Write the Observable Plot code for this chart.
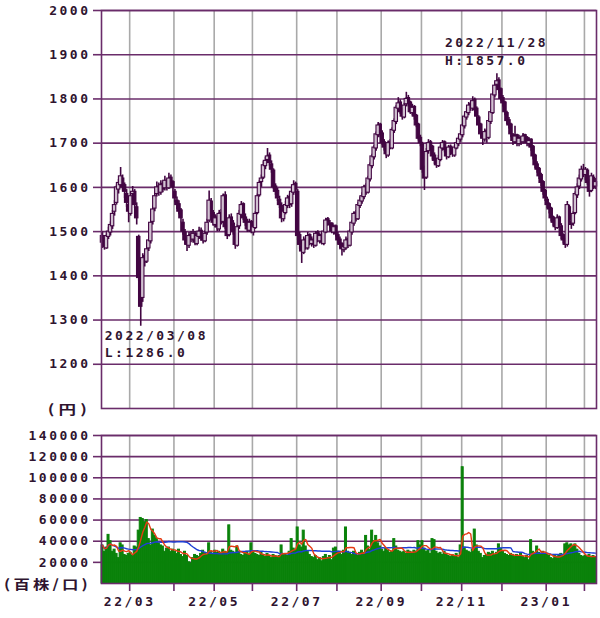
<!DOCTYPE html>
<html><head><meta charset="utf-8">
<script src="https://cdn.jsdelivr.net/npm/d3@7"></script>
<script src="https://cdn.jsdelivr.net/npm/@observablehq/plot@0.6"></script>
<style>
html,body{margin:0;padding:0;background:#fff;}
#wrap{position:relative;width:600px;height:618px;overflow:hidden;}
#price,#vol{position:absolute;left:0;}
#price{top:0;}
#vol{top:418px;}
.unit{position:absolute;left:0;width:88px;text-align:right;font-family:"Noto Sans CJK JP";font-weight:bold;font-size:13px;line-height:15px;color:#2f142f;white-space:nowrap;}
.unit span{display:inline-block;transform-origin:right center;}
</style>
</head><body>
<div id="wrap">
<div id="price"></div>
<div id="vol"></div>
<div class="unit" style="top:401px"><span style="transform:scaleX(1.35);letter-spacing:3px;margin-right:-3px">(円)</span></div>
<div class="unit" style="top:576px"><span style="transform:scaleX(1.26);letter-spacing:2.5px;margin-right:-2.5px">(百株/口)</span></div>
</div>
<script>
// ---- calendar (trading days) ----
const startDate = "2022-02-07";
const endDate = "2023-02-08";
const holidays = ["2022-02-11","2022-02-23","2022-03-21","2022-04-29","2022-05-03","2022-05-04","2022-05-05",
  "2022-07-18","2022-08-11","2022-09-19","2022-09-23","2022-10-10","2022-11-03","2022-11-23",
  "2023-01-02","2023-01-03","2023-01-09"];

// ---- daily prices (円) ----
const open = [
1490,1478,1462,1488,1498,1512,1545,1565,1595,1605,1620,1605,1585,1560,
1540,1585,1590,1555,1488,1400,1350,1445,1432,1462,1478,1522,1552,1585,1602,1588,1608,1598,1612,1598,1622,1612,
1590,1570,1562,1548,1520,1498,1482,1468,1492,1482,1495,1472,1488,1502,1488,1478,1498,1525,1568,1542,
1515,1532,1505,1542,1522,1582,1508,1492,1532,1518,1502,1468,1512,1538,1562,1532,1522,1502,1522,
1498,1508,1542,1582,1612,1622,1648,1662,1672,1652,1638,1602,1592,1572,1558,1528,1542,1558,1578,1562,1588,1608,
1590,1492,1468,1452,1482,1462,1492,1472,1482,1468,1498,1478,1492,1472,1498,1528,1518,1518,1498,1512,
1492,1482,1472,1458,1462,1482,1468,1498,1518,1542,1528,1558,1568,1578,1602,1588,1618,1648,1668,1688,1718,1742,
1722,1702,1688,1672,1702,1688,1728,1748,1778,1792,1772,1758,1788,1802,1792,1768,1782,1762,1742,1712,
1698,1642,1622,1682,1702,1692,1672,1662,1648,1662,1688,1702,1688,1668,1692,1682,1672,1688,1698,1708,
1718,1738,1758,1768,1788,1778,1798,1778,1758,1742,1722,1708,1728,1712,1748,1768,1808,1832,1842,1822,
1802,1792,1768,1752,1742,1718,1702,1718,1698,1712,1702,1718,1712,1698,1708,1692,1672,1652,1642,1628,1612,1592,
1572,1562,1552,1532,1522,1508,1532,1512,1492,1482,1470,1555,1522,1518,1542,1582,1602,1618,1638,
1628,1638,1612,1592,1622,1602];
const high = [
1500,1485,1495,1510,1522,1548,1570,1605,1618,1645,1628,1610,1595,1570,
1590,1602,1595,1565,1492,1418,1450,1458,1468,1490,1525,1558,1590,1612,1610,1615,1612,1625,1618,1632,1628,1615,
1595,1578,1570,1552,1528,1505,1488,1498,1500,1505,1500,1495,1510,1508,1492,1502,1528,1592,1575,1548,
1538,1538,1548,1550,1585,1590,1515,1538,1540,1525,1508,1515,1548,1568,1565,1540,1528,1528,1525,
1515,1545,1585,1615,1628,1658,1668,1688,1678,1660,1642,1608,1598,1580,1565,1552,1568,1582,1585,1598,1615,1612,
1595,1498,1475,1488,1490,1498,1495,1488,1485,1500,1502,1495,1498,1505,1530,1532,1525,1520,1515,1515,
1498,1488,1475,1472,1488,1485,1505,1525,1545,1548,1565,1578,1588,1605,1608,1625,1655,1675,1695,1725,1747,1745,
1728,1708,1695,1705,1708,1735,1755,1785,1803,1798,1778,1790,1815,1808,1795,1788,1785,1765,1745,1718,
1702,1648,1688,1708,1706,1695,1678,1665,1672,1695,1706,1705,1690,1695,1696,1685,1695,1705,1715,1728,
1745,1765,1778,1792,1795,1805,1802,1782,1762,1745,1725,1732,1730,1755,1775,1815,1838,1857,1848,1825,
1808,1795,1772,1758,1745,1722,1738,1720,1718,1715,1722,1720,1715,1712,1710,1695,1675,1658,1645,1632,1615,1595,
1578,1565,1555,1535,1525,1538,1535,1518,1495,1485,1568,1560,1540,1545,1590,1608,1628,1648,1652,
1645,1642,1618,1632,1628,1620];
const low = [
1462,1458,1460,1482,1490,1505,1535,1560,1585,1600,1592,1575,1555,1520,
1535,1570,1552,1515,1388,1286,1340,1420,1428,1455,1472,1515,1545,1578,1580,1582,1588,1592,1592,1595,1602,1590,
1565,1550,1538,1520,1492,1470,1455,1462,1475,1478,1468,1468,1482,1478,1472,1475,1492,1520,1532,1512,
1508,1500,1500,1515,1518,1505,1482,1488,1512,1492,1460,1465,1505,1532,1525,1512,1498,1498,1495,
1490,1505,1538,1578,1600,1618,1640,1655,1648,1632,1595,1582,1568,1552,1520,1522,1538,1552,1552,1555,1582,1585,
1480,1460,1428,1448,1458,1458,1468,1465,1462,1465,1475,1472,1470,1468,1495,1512,1508,1495,1492,1488,
1472,1462,1445,1452,1458,1462,1465,1492,1512,1522,1525,1552,1562,1572,1582,1585,1612,1642,1662,1682,1712,1712,
1695,1682,1665,1668,1685,1685,1722,1742,1772,1765,1752,1755,1782,1782,1765,1762,1752,1735,1705,1692,
1632,1593,1618,1675,1682,1662,1652,1643,1645,1658,1682,1678,1662,1665,1672,1668,1668,1685,1692,1702,
1712,1732,1752,1762,1772,1772,1768,1752,1732,1712,1695,1702,1700,1708,1742,1765,1802,1825,1812,1795,
1782,1762,1742,1732,1712,1695,1698,1692,1692,1695,1698,1700,1692,1692,1682,1662,1642,1632,1618,1602,1582,1568,
1552,1540,1522,1512,1502,1505,1508,1482,1472,1462,1465,1520,1505,1512,1538,1575,1595,1612,1622,
1615,1605,1578,1588,1595,1595];
const close = [
1475,1465,1490,1500,1515,1540,1560,1600,1610,1625,1600,1590,1565,1545,
1580,1590,1560,1530,1395,1330,1440,1430,1460,1480,1520,1550,1580,1600,1590,1605,1595,1615,1600,1620,1610,1600,
1575,1560,1545,1530,1500,1480,1470,1490,1485,1495,1475,1490,1500,1485,1480,1495,1520,1570,1540,1520,
1530,1510,1540,1520,1580,1510,1490,1530,1520,1500,1470,1510,1540,1560,1530,1520,1505,1520,1500,
1510,1540,1580,1610,1620,1650,1660,1670,1655,1640,1600,1590,1575,1560,1530,1545,1560,1575,1560,1590,1605,1595,
1490,1470,1455,1480,1465,1490,1475,1480,1470,1495,1480,1490,1475,1500,1525,1520,1515,1500,1510,1495,
1480,1470,1460,1465,1480,1470,1500,1520,1540,1530,1560,1570,1580,1600,1590,1620,1650,1670,1690,1720,1740,1720,
1700,1690,1675,1700,1690,1730,1750,1780,1790,1770,1760,1785,1800,1790,1770,1780,1760,1740,1710,1700,
1640,1620,1680,1700,1690,1670,1660,1650,1665,1690,1700,1685,1670,1690,1680,1675,1690,1700,1710,1720,
1740,1760,1770,1785,1780,1795,1775,1760,1740,1720,1710,1725,1715,1750,1770,1810,1830,1840,1820,1800,
1790,1770,1750,1740,1720,1705,1715,1700,1710,1705,1715,1710,1700,1705,1690,1670,1650,1640,1625,1610,1590,1575,
1560,1550,1530,1520,1510,1530,1515,1490,1480,1470,1560,1525,1515,1540,1585,1600,1620,1640,1630,
1640,1610,1590,1625,1600,1612];
// ---- daily volume (百株) ----
const volume = [
36000,30000,34000,46000,40000,30000,32000,28000,24000,38000,36000,27000,26000,28000,
29000,26000,35000,34000,50000,62000,61000,58000,60000,42000,36000,51000,45000,42000,38000,36000,35000,30000,33000,34000,30000,32000,
30000,28000,32000,27000,25000,30000,26000,20000,19000,24000,27000,26000,25000,28000,31000,29000,27000,38000,30000,28000,
31000,29000,30000,28000,32000,30000,29000,55000,31000,30000,28000,35000,30000,27000,26000,28000,30000,27000,38000,
30000,28000,27000,26000,29000,27000,25000,28000,26000,24000,27000,26000,25000,26000,36000,28000,27000,26000,30000,42000,33000,31000,
53000,36000,34000,50000,35000,30000,27000,25000,24000,26000,22000,24000,21000,25000,27000,24000,26000,22000,33000,34000,
30000,28000,27000,31000,53000,30000,29000,27000,30000,28000,26000,29000,31000,29000,45000,35000,32000,50000,40000,45000,38000,35000,
32000,30000,33000,31000,29000,30000,42000,35000,31000,30000,29000,30000,28000,31000,30000,29000,31000,30000,40000,36000,
40000,33000,30000,31000,28000,42000,41000,30000,28000,29000,27000,30000,28000,26000,25000,27000,26000,28000,24000,36000,
110000,34000,31000,30000,29000,32000,51000,36000,30000,28000,24000,26000,27000,29000,28000,30000,27000,29000,37000,33000,
30000,28000,27000,26000,28000,27000,25000,27000,26000,28000,25000,24000,26000,22000,41000,30000,28000,35000,29000,27000,30000,28000,
28000,26000,24000,23000,27000,25000,26000,28000,27000,37000,38000,36000,37000,35000,37000,32000,28000,26000,25000,
26000,25000,27000,24000,26000,25000];

const priceTicks = [1200,1300,1400,1500,1600,1700,1800,1900,2000];
const volTicks = [20000,40000,60000,80000,100000,120000,140000];
const labeledMonths = [1,3,5,7,9,11];

// ---- build trading-day list ----
const dates = [];
for (let t = new Date(startDate + "T00:00:00Z"); t <= new Date(endDate + "T00:00:00Z"); t = new Date(t.getTime() + 864e5)) {
  const dow = t.getUTCDay();
  const s = t.toISOString().slice(0, 10);
  if (dow === 0 || dow === 6 || holidays.includes(s)) continue;
  dates.push(s);
}
const N = dates.length;
const data = dates.map((d, i) => ({i, date: d, o: open[i], h: high[i], l: low[i], c: close[i], v: volume[i]}));
const monthStarts = [];
for (let i = 1; i < N; i++) if (dates[i].slice(5, 7) !== dates[i - 1].slice(5, 7)) monthStarts.push(i);

const PURPLE = "#6a2c6a", GRAY = "#a9a9a9", CANDLE = "#420642", TEXT = "#2f142f", GREEN = "#0a820a";
const baseStyle = {fontFamily: "'DejaVu Sans Mono', monospace", fontSize: "13px", fontWeight: "bold",
  letterSpacing: "2.5px", color: TEXT, background: "transparent", overflow: "visible"};

const hi = d3.maxIndex(high), lo = d3.minIndex(low);
const fmtDate = s => s.replaceAll("-", "/");

const price = Plot.plot({
  width: 600, height: 418, marginLeft: 101, marginRight: 4, marginTop: 10, marginBottom: 10,
  x: {type: "linear", domain: [-0.5, N - 0.5], axis: null},
  y: {domain: [1100, 2000], axis: null},
  style: baseStyle,
  marks: [
    Plot.ruleX(monthStarts, {x: d => d - 0.5, stroke: GRAY, strokeWidth: 1.6}),
    Plot.ruleY(priceTicks, {stroke: PURPLE, strokeWidth: 1.6}),
    Plot.axisY({ticks: priceTicks, tickSize: 8, tickPadding: 3, stroke: PURPLE, strokeWidth: 1.6, label: null, tickFormat: d => String(d)}),
    Plot.ruleX(data, {x: "i", y1: "l", y2: "h", stroke: CANDLE, strokeWidth: 1.6}),
    Plot.rect(data, {filter: d => d.c < d.o, x1: d => d.i - 0.85, x2: d => d.i + 0.85, y1: "o", y2: "c", fill: CANDLE, stroke: CANDLE, strokeWidth: 1.1}),
    Plot.rect(data, {filter: d => d.c >= d.o, x1: d => d.i - 0.85, x2: d => d.i + 0.85, y1: "o", y2: "c", fill: "#d2c2d2", stroke: CANDLE, strokeWidth: 1.1}),
    Plot.frame({stroke: PURPLE, strokeWidth: 1.6}),
    Plot.text([hi], {x: d => d, y: d => high[d], text: d => fmtDate(dates[d]), dx: -52, dy: -31, textAnchor: "start", fill: TEXT}),
    Plot.text([hi], {x: d => d, y: d => high[d], text: d => "H:" + high[d].toFixed(1), dx: -52, dy: -13, textAnchor: "start", fill: TEXT}),
    Plot.text([lo], {x: d => d, y: d => low[d], text: d => fmtDate(dates[d]), dx: -36, dy: 10, textAnchor: "start", fill: TEXT}),
    Plot.text([lo], {x: d => d, y: d => low[d], text: d => "L:" + low[d].toFixed(1), dx: -36, dy: 27, textAnchor: "start", fill: TEXT})
  ]
});
document.getElementById("price").appendChild(price);

const vol = Plot.plot({
  width: 600, height: 200, marginLeft: 101, marginRight: 4, marginTop: 17, marginBottom: 35,
  x: {type: "linear", domain: [-0.5, N - 0.5], axis: null},
  y: {domain: [0, 140000], axis: null},
  style: baseStyle,
  marks: [
    Plot.ruleX(monthStarts, {x: d => d - 0.5, stroke: GRAY, strokeWidth: 1.6}),
    Plot.ruleY(volTicks, {stroke: PURPLE, strokeWidth: 1.6}),
    Plot.rect(data, {x1: d => d.i - 0.5, x2: d => d.i + 0.5, y1: 0, y2: "v", fill: GREEN, stroke: GREEN, strokeWidth: 1}),
    Plot.lineY(data, Plot.windowY({k: 25, anchor: "end"}, {x: "i", y: "v", stroke: "#1f3fd6", strokeWidth: 1.4})),
    Plot.lineY(data, Plot.windowY({k: 5, anchor: "end"}, {x: "i", y: "v", stroke: "#e63a12", strokeWidth: 1.4})),
    Plot.axisY({ticks: volTicks, tickSize: 8, tickPadding: 3, stroke: PURPLE, strokeWidth: 1.6, label: null, tickFormat: d => String(d)}),
    Plot.axisX({ticks: monthStarts.map(i => i - 0.5), tickSize: 8, tickPadding: 5, stroke: PURPLE, strokeWidth: 1.6, label: null,
      tickFormat: v => { const s = dates[v + 0.5]; const m = +s.slice(5, 7); return labeledMonths.includes(m) ? s.slice(2, 4) + "/" + s.slice(5, 7) : ""; }}),
    Plot.frame({stroke: PURPLE, strokeWidth: 1.6})
  ]
});
document.getElementById("vol").appendChild(vol);
</script>
</body></html>
